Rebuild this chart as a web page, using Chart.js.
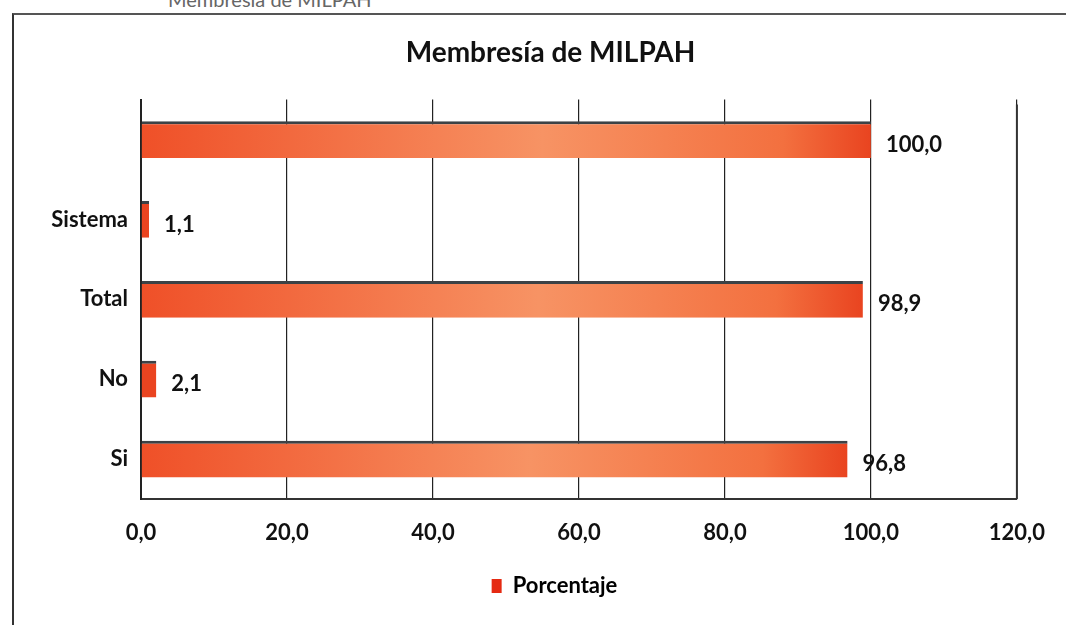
<!DOCTYPE html>
<html>
<head>
<meta charset="utf-8">
<script src="https://cdn.jsdelivr.net/npm/chart.js@4.4.0/dist/chart.umd.min.js"></script>
<style>
  html, body { margin: 0; padding: 0; background: #fff; }
  body { width: 1066px; height: 625px; position: relative; overflow: hidden; font-family: Lato, "Open Sans", sans-serif; }
  #marco { position: absolute; left: 12px; top: 13px; width: 1080px; height: 640px; border-left: 2px solid #333; border-top: 2px solid #555; }
  #pie { position: absolute; left: 168px; top: -13px; font-size: 20px; color: #666; }
  #wrap { position: absolute; left: 0; top: 0; width: 1066px; height: 625px; }
</style>
</head>
<body>
<div id="pie">Membresía de MILPAH</div>
<div id="marco"></div>
<div id="wrap"><canvas id="grafico"></canvas></div>
<script>
// datos (de arriba hacia abajo)
var categorias = ['', 'Sistema', 'Total', 'No', 'Si'];
var porcentajes = [100.0, 1.1, 98.9, 2.1, 96.8];
var marcasEje = [0, 20, 40, 60, 80, 100, 120];

function coma(v) {
    return v.toFixed(1).replace('.', ',');
}

// degradado de cada barra, del origen al extremo
function colorBarra(context) {
    var chart = context.chart;
    if (!chart.chartArea) return '#f15a30';
    var escala = chart.scales.x;
    var x0 = escala.getPixelForValue(0);
    var x1 = escala.getPixelForValue(context.raw);
    if (x1 - x0 < 30) return '#ea4420';
    var g = chart.ctx.createLinearGradient(x0, 0, x1, 0);
    g.addColorStop(0, '#ef5028');
    g.addColorStop(0.55, '#f79364');
    g.addColorStop(0.88, '#f3703f');
    g.addColorStop(1, '#e94420');
    return g;
}

var etiquetas = {
    id: 'etiquetas',
    afterDatasetsDraw: function(chart) {
        var ctx = chart.ctx;
        var meta = chart.getDatasetMeta(0);
        ctx.save();
        ctx.font = 'bold 22px Lato';
        ctx.fillStyle = '#111';
        ctx.textAlign = 'left';
        ctx.textBaseline = 'middle';
        meta.data.forEach(function(barra, i) {
            ctx.fillText(coma(porcentajes[i]), barra.x + 15, barra.y + 5);
        });
        ctx.restore();
    }
};

// el titulo y la leyenda van algo a la derecha del centro
var centrado = {
    id: 'centrado',
    afterLayout: function(chart) {
        chart.titleBlock.left += 31;
        chart.titleBlock.right += 31;
        chart.legend.left += 35;
        chart.legend.right += 35;
        chart.legend.legendHitBoxes.forEach(function(h) { h.left += 35; });
    }
};

var ctx = document.getElementById('grafico').getContext('2d');
var chart = new Chart(ctx, {
    type: 'bar',
    data: {
        labels: categorias,
        datasets: [{
            label: 'Porcentaje',
            data: porcentajes,
            backgroundColor: colorBarra,
            borderColor: '#3c4246',
            borderWidth: { top: 3, right: 0, bottom: 0, left: 0 },
            borderSkipped: false,
            barPercentage: 0.92,
            categoryPercentage: 0.5
        }]
    },
    options: {
        indexAxis: 'y',
        responsive: true,
        maintainAspectRatio: false,
        animation: false,
        layout: { padding: { left: 20, right: 47, top: 28, bottom: 18 } },
        plugins: {
            title: {
                display: true,
                text: 'Membresía de MILPAH',
                color: '#111',
                font: { family: 'Lato', size: 28, weight: 'bold' },
                padding: { top: 8, bottom: 30 }
            },
            legend: {
                position: 'bottom',
                labels: {
                    color: '#111',
                    font: { family: 'Lato', size: 22, weight: 'bold' },
                    boxWidth: 10,
                    boxHeight: 14,
                    padding: 10,
                    generateLabels: function() {
                        return [{ text: 'Porcentaje', fillStyle: '#e52a12', strokeStyle: '#e52a12', lineWidth: 0 }];
                    }
                }
            },
            tooltip: { enabled: false }
        },
        scales: {
            x: {
                min: 0,
                max: 120,
                afterBuildTicks: function(scale) {
                    scale.ticks = marcasEje.map(function(v) { return { value: v }; });
                },
                afterFit: function(scale) { scale.height = 66; },
                grid: { color: '#222', lineWidth: 1.2, drawTicks: false },
                border: { display: true, color: '#333', width: 2 },
                ticks: {
                    padding: 21,
                    color: '#111',
                    font: { family: 'Lato', size: 22, weight: 'bold' },
                    callback: function(v) { return coma(v); }
                }
            },
            y: {
                afterFit: function(scale) { scale.width = 121; },
                grid: { display: false },
                border: { display: true, color: '#222', width: 2 },
                ticks: {
                    padding: 5,
                    color: '#111',
                    font: { family: 'Lato', size: 22, weight: 'bold' }
                }
            }
        }
    },
    plugins: [etiquetas, centrado, {
        id: 'bordeDerecho',
        afterDraw: function(chart) {
            var a = chart.chartArea;
            var c = chart.ctx;
            c.save();
            c.strokeStyle = '#333';
            c.lineWidth = 2;
            c.beginPath();
            c.moveTo(a.right, a.top + 5);
            c.lineTo(a.right, a.bottom);
            c.stroke();
            c.restore();
        }
    }]
});
</script>
</body>
</html>
